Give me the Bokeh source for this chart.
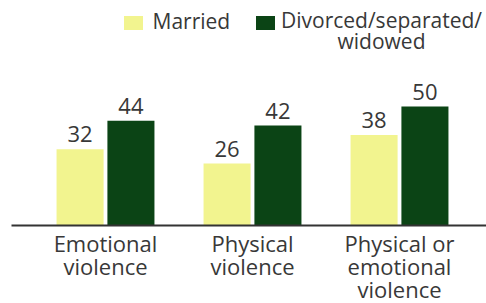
from bokeh.plotting import figure
from bokeh.models import Range1d, ColumnDataSource
from bokeh.core.properties import value
from bokeh.embed import file_html
from bokeh.resources import INLINE

categories = ["Emotional\nviolence", "Physical\nviolence", "Physical or\nemotional\nviolence"]
married = [32, 26, 38]
divorced = [44, 42, 50]
series_names = ["Married", "Divorced/separated/\nwidowed"]
series_colors = ["#f2f48f", "#0b4415"]

W, H = 486, 303
PX_X = 147.0   # px per category unit
PX_Y = 2.38    # px per value unit
x_start = -105 / PX_X
x_end = x_start + W / PX_X
y_end = 225 / PX_Y
y_start = y_end - H / PX_Y

def xd(cx):
    return x_start + cx / PX_X

def yd(cy):
    return y_end - cy / PX_Y

FONT = value("Open Sans")
TXT = "#383838"

p = figure(width=W, height=H, output_backend="svg", toolbar_location=None,
           x_range=Range1d(x_start, x_end), y_range=Range1d(y_start, y_end),
           min_border=0)
p.axis.visible = False
p.grid.visible = False
p.outline_line_color = None
p.background_fill_color = "white"
p.border_fill_color = "white"

idx = list(range(len(categories)))
off = 0.173
bw = 0.32
src = ColumnDataSource(dict(
    xm=[i - off for i in idx], xd=[i + off for i in idx],
    married=married, divorced=divorced,
    ml=[str(v) for v in married], dl=[str(v) for v in divorced],
    x=idx, cat=categories,
))

p.vbar(x="xm", top="married", width=bw, bottom=0, source=src,
       fill_color=series_colors[0], line_color=None)
p.vbar(x="xd", top="divorced", width=bw, bottom=0, source=src,
       fill_color=series_colors[1], line_color=None)

p.text(x="xm", y="married", text="ml", source=src, text_font=FONT,
       text_font_size="22px", text_color=TXT, text_align="center",
       text_baseline="alphabetic", y_offset=-15)
p.text(x="xd", y="divorced", text="dl", source=src, text_font=FONT,
       text_font_size="22px", text_color=TXT, text_align="center",
       text_baseline="alphabetic", y_offset=-15)

# baseline axis line
p.segment(x0=[xd(11)], x1=[x_end], y0=[0], y1=[0], line_color="#333333", line_width=2)

# category labels
p.text(x="x", y=0, text="cat", source=src, text_font=FONT,
       text_font_size="22px", text_color=TXT, text_align="center",
       text_baseline="top", y_offset=2, text_line_height=0.77)

# legend (manual)
p.rect(x=[xd(133), xd(265)], y=[yd(22.5), yd(22.5)], width=[19, 19], height=[14, 14],
       width_units="screen", height_units="screen",
       fill_color=series_colors, line_color=None)
p.text(x=[xd(152)], y=[yd(20)], text=[series_names[0]], text_font=FONT,
       text_font_size="21px", text_color=TXT, text_align="left",
       text_baseline="alphabetic")
p.text(x=[xd(381)], y=[yd(5)], text=[series_names[1]], text_font=FONT,
       text_font_size="21px", text_color=TXT, text_align="center",
       text_baseline="top", text_line_height=0.75)

open("out.html", "w").write(file_html(p, INLINE))
